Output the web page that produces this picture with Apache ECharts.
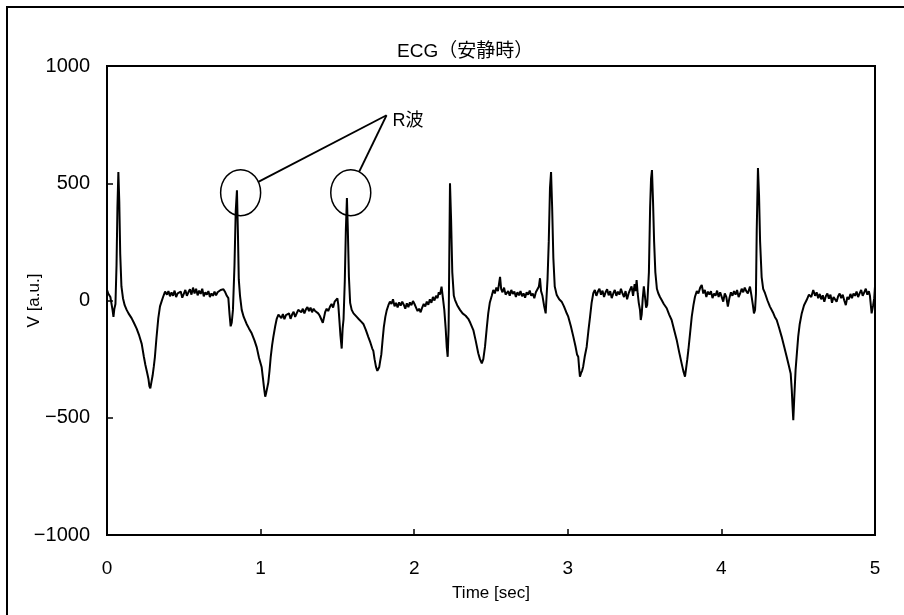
<!DOCTYPE html>
<html>
<head>
<meta charset="utf-8">
<title>ECG</title>
<script src="https://cdn.jsdelivr.net/npm/echarts@6/dist/echarts.min.js"></script>
<style>
  html, body { margin: 0; padding: 0; background: #fff; }
  #chart { width: 904px; height: 615px; }
</style>
</head>
<body>
<div id="chart"></div>
<script>
// time [sec] and voltage [a.u.]
const timeSec = [
  0.000, 0.008, 0.015, 0.022, 0.030, 0.036, 0.042, 0.048, 0.055,
  0.062, 0.068, 0.074, 0.080, 0.086, 0.094, 0.104,
  0.115, 0.128, 0.140, 0.160, 0.175, 0.193, 0.210, 0.226, 0.240, 0.250, 0.262, 0.270, 0.276, 0.282, 0.290, 0.297, 0.305, 0.312, 0.322, 0.334, 0.345, 0.355, 0.365, 0.378,
  0.390, 0.400, 0.410, 0.420, 0.430, 0.440, 0.450, 0.460, 0.470, 0.480, 0.490, 0.500, 0.510, 0.520, 0.530, 0.540, 0.550, 0.560, 0.570, 0.580, 0.590, 0.600, 0.610, 0.620, 0.630, 0.640, 0.650, 0.660, 0.670, 0.680, 0.690, 0.700, 0.710, 0.720, 0.730, 0.740, 0.750, 0.758, 0.770, 0.780, 0.790,
  0.798, 0.805, 0.812, 0.820,
  0.830, 0.838, 0.846, 0.852, 0.858, 0.866, 0.877, 0.890, 0.909, 0.925, 0.942, 0.960, 0.975, 0.990, 1.007, 1.015, 1.022, 1.030, 1.036, 1.043, 1.050, 1.058, 1.066, 1.075, 1.083, 1.095, 1.105, 1.116, 1.126,
  1.135, 1.145, 1.155, 1.165, 1.175, 1.185, 1.195, 1.205, 1.215, 1.225, 1.235, 1.245, 1.256, 1.265, 1.275, 1.285, 1.295, 1.305, 1.315, 1.325, 1.335, 1.345, 1.355, 1.365, 1.375, 1.385, 1.395, 1.405, 1.412, 1.420, 1.430, 1.440, 1.452, 1.462, 1.472, 1.482, 1.492, 1.500, 1.506,
  1.512, 1.520, 1.528, 1.534, 1.540,
  1.548, 1.555, 1.562, 1.568, 1.575, 1.583, 1.593, 1.605, 1.615, 1.626, 1.640, 1.655, 1.669, 1.685, 1.701, 1.715, 1.727, 1.734, 1.742, 1.751, 1.760, 1.766, 1.772, 1.778, 1.786, 1.794, 1.802, 1.812, 1.821, 1.832, 1.842,
  1.852, 1.862, 1.872, 1.882, 1.892, 1.902, 1.912, 1.922, 1.932, 1.942, 1.952, 1.962, 1.972, 1.982, 1.992, 2.002, 2.012, 2.022, 2.032, 2.042, 2.052, 2.062, 2.072, 2.082, 2.092, 2.102, 2.112, 2.122, 2.132, 2.142, 2.152, 2.160, 2.168, 2.178, 2.188,
  2.196, 2.205, 2.212, 2.218, 2.224,
  2.228, 2.233, 2.240, 2.248, 2.258, 2.266, 2.280, 2.298, 2.315, 2.335, 2.352, 2.365, 2.385, 2.400, 2.417, 2.428, 2.440, 2.450, 2.461, 2.472, 2.482, 2.492, 2.505, 2.515,
  2.525, 2.535, 2.545, 2.552, 2.559, 2.566, 2.575, 2.585, 2.595, 2.602, 2.612, 2.622, 2.632, 2.642, 2.652, 2.662, 2.672, 2.682, 2.692, 2.702, 2.712, 2.722, 2.732, 2.742, 2.752, 2.762, 2.772, 2.782, 2.792, 2.802, 2.812, 2.819, 2.826, 2.835, 2.845, 2.856, 2.862, 2.868,
  2.876, 2.884, 2.891, 2.898, 2.906, 2.915, 2.928, 2.944, 2.960, 2.975, 2.990, 3.003, 3.020, 3.036, 3.050, 3.060, 3.068, 3.074, 3.079, 3.086, 3.093, 3.100, 3.110, 3.123, 3.134, 3.145, 3.155, 3.166,
  3.176, 3.186, 3.196, 3.206, 3.216, 3.226, 3.236, 3.246, 3.256, 3.266, 3.276, 3.286, 3.296, 3.306, 3.316, 3.326, 3.336, 3.346, 3.356, 3.366, 3.376, 3.386, 3.396, 3.405, 3.415, 3.425, 3.435, 3.442, 3.448, 3.455, 3.462, 3.470, 3.475, 3.481, 3.488, 3.495, 3.502, 3.510, 3.517,
  3.528, 3.536, 3.542, 3.548, 3.555, 3.562, 3.570, 3.580, 3.589, 3.600, 3.611, 3.625, 3.644, 3.660, 3.676, 3.692, 3.709, 3.725, 3.741, 3.752, 3.763, 3.770, 3.778, 3.785, 3.796, 3.807, 3.818, 3.828, 3.840, 3.850, 3.862, 3.872,
  3.882, 3.892, 3.902, 3.912, 3.922, 3.932, 3.942, 3.952, 3.962, 3.972, 3.982, 3.992, 4.002, 4.012, 4.022, 4.032, 4.042, 4.052, 4.062, 4.072, 4.082, 4.092, 4.102, 4.112, 4.122, 4.132, 4.142, 4.152, 4.162, 4.172, 4.186, 4.196, 4.205, 4.212, 4.219, 4.225,
  4.230, 4.238, 4.245, 4.252, 4.262, 4.272, 4.284, 4.300, 4.316, 4.335, 4.348, 4.360, 4.375, 4.392, 4.408, 4.425, 4.438, 4.451, 4.458, 4.463, 4.468, 4.474, 4.483, 4.492, 4.500, 4.510, 4.523, 4.538, 4.555, 4.570, 4.585, 4.598,
  4.610, 4.620, 4.630, 4.640, 4.650, 4.660, 4.670, 4.680, 4.690, 4.700, 4.710, 4.720, 4.730, 4.740, 4.750, 4.760, 4.770, 4.780, 4.790, 4.800, 4.810, 4.820, 4.830, 4.840, 4.850, 4.860, 4.870, 4.880, 4.890, 4.900, 4.910, 4.920, 4.930, 4.940, 4.950, 4.960, 4.967, 4.978, 4.988, 4.995, 5.000
]
const voltage = [
  45, 30, 38, 15, 22, -40, -70, -35, -15,
  150, 400, 548, 420, 200, 60, 10,
  -20, -40, -55, -75, -95, -120, -150, -185, -240, -275, -310, -335, -365, -375, -345, -320, -280, -240, -160, -75, -25, -5, 15, 38,
  25, 40, 18, 35, 20, 42, 15, 30, 22, 38, 12, 28, 45, 20, 35, 48, 25, 55, 30, 50, 22, 42, 28, 50, 18, 35, 25, 40, 15, 30, 20, 38, 22, 35, 28, 45, 40, 48, 35, 20, 10,
  -60, -110, -95, -40,
  150, 380, 470, 300, 90, 20, -40, -70, -100, -120, -140, -170, -200, -245, -285, -330, -370, -410, -395, -400, -350, -300, -240, -190, -155, -110, -78, -60, -55,
  -75, -58, -80, -62, -70, -55, -78, -60, -48, -70, -55, -40, -32, -50, -35, -55, -38, -28, -45, -30, -50, -35, -45, -40, -55, -65, -80, -95, -75, -50, -35, -45, -26, -15, -30, -5, -12, 9, -20,
  -75, -150, -205, -120, -80,
  80, 300, 437, 300, 100, -10, -40, -55, -50, -70, -80, -90, -100, -125, -155, -180, -205, -215, -250, -282, -300, -296, -285, -260, -230, -170, -115, -70, -42, -20, -5,
  -15, 5, -25, -10, -30, -8, -22, -5, -18, -35, -12, -28, -8, -20, -2, -15, -30, -45, -35, -50, -30, -15, -25, -5, -18, 5, -10, 15, 0, 20, 10, 35, 25, 59, 5,
  -40, -120, -200, -240, -120,
  150, 500, 350, 120, 20, 2, -20, -40, -55, -65, -78, -95, -126, -170, -225, -250, -268, -250, -197, -120, -55, -10, 20, 45,
  30, 55, 40, 70, 101, 50, 35, 55, 25, 23, 40, 20, 45, 28, 38, 15, 35, 22, 40, 18, 30, 12, 35, 25, 42, 20, 30, 10, 35, 28, 60, 95, 40, 20, -20, -55, 20, 90,
  250, 480, 548, 400, 180, 60, 23, 5, -5, -25, -50, -69, -110, -154, -195, -230, -240, -290, -325, -310, -300, -282, -240, -197, -130, -69, -10, 31,
  45, 20, 38, 50, 25, 42, 15, 35, 48, 22, 40, 10, 30, 45, 20, 38, 25, 50, 30, 15, 40, 5, 30, 45, 60, 20, 70, 40, 87, 30, -10, -40, -83, -60, 10, 60, 20, -30, -19,
  120, 400, 520, 556, 420, 250, 120, 50, 31, 15, 2, -15, -33, -60, -83, -125, -168, -220, -268, -300, -325, -290, -250, -211, -140, -69, -20, 16, 40, 30, 55, 66,
  30, 45, 15, 38, 25, 40, 10, 30, 20, 42, 15, 35, 28, -5, 30, 15, -26, 10, 35, 20, 40, 25, 45, 15, 30, 50, 35, 55, 40, 30, 59, 20, -20, -55, -40, 30,
  300, 565, 450, 250, 100, 50, 31, 0, -26, -50, -70, -83, -115, -154, -195, -240, -275, -311, -380, -450, -510, -420, -296, -220, -154, -100, -55, -20, 2, 25, 15, 45,
  20, 35, 10, 28, 5, 22, -5, 18, 30, 8, 25, -10, 15, 20, -5, 18, 30, 10, 25, 0, -20, 15, 5, 28, 10, 30, 20, 38, 15, 30, 45, 20, 35, 50, 25, 40, 20, -55, -20, 10, 60
]

// circled R waves and the label they point to
const rWaveMarks = [[0.870, 460], [1.587, 460]]
const rLabelAt = [1.82, 790]
const rLabel = 'R波'

let chartDom = document.getElementById('chart')
let myChart = echarts.init(chartDom)

const fmt = v => (v < 0 ? '\u2212' + Math.abs(v) : String(v))
const sans = 'Liberation Sans, Noto Sans CJK JP, sans-serif'

let option = {
  animation: false,
  backgroundColor: '#fff',
  title: {
    text: 'ECG（安静時）',
    left: 392,
    top: 37,
    textStyle: {
      fontFamily: sans,
      fontSize: 19,
      fontWeight: 'normal',
      color: '#000',
    },
  },
  grid: {
    left: 107,
    top: 66,
    right: 29,
    bottom: 80,
    show: true,
    borderColor: '#000',
    borderWidth: 2,
  },
  xAxis: {
    type: 'value',
    min: 0,
    max: 5,
    interval: 1,
    name: 'Time [sec]',
    nameLocation: 'middle',
    nameGap: 50,
    nameMoveOverlap: false,
    nameTextStyle: { fontFamily: sans, fontSize: 17, color: '#000' },
    axisLine: { onZero: false, lineStyle: { color: '#000', width: 2 } },
    axisTick: { inside: true, length: 6, lineStyle: { color: '#000', width: 1.5 } },
    axisLabel: { margin: 24, fontFamily: sans, fontSize: 19, color: '#000' },
    splitLine: { show: false },
  },
  yAxis: {
    type: 'value',
    min: -1000,
    max: 1000,
    interval: 500,
    name: 'V [a.u.]',
    nameLocation: 'middle',
    nameGap: 64,
    nameMoveOverlap: false,
    nameTextStyle: { fontFamily: sans, fontSize: 17, color: '#000' },
    axisLine: { onZero: false, lineStyle: { color: '#000', width: 2 } },
    axisTick: { inside: true, length: 6, lineStyle: { color: '#000', width: 1.5 } },
    axisLabel: {
      margin: 17,
      fontFamily: sans,
      fontSize: 20,
      color: '#000',
      formatter: fmt,
    },
    splitLine: { show: false },
  },
  series: [
    {
      type: 'line',
      data: timeSec.map((t, i) => [t, voltage[i]]),
      showSymbol: false,
      lineStyle: { color: '#000', width: 2 },
      z: 3,
    },
  ],
}
myChart.setOption(option)

// annotations placed through the chart's own scales
const toPx = p => myChart.convertToPixel({ gridIndex: 0 }, p)
const labelPx = toPx(rLabelAt)
let graphics = [
  {
    type: 'polyline',
    shape: { points: [[7, 615], [7, 7], [904, 7]] },
    style: { stroke: '#000', lineWidth: 2, fill: null },
  },
]
rWaveMarks.forEach((m, i) => {
  const c = toPx(m)
  graphics.push({
    type: 'ellipse',
    shape: { cx: c[0], cy: c[1], rx: 20, ry: 23 },
    style: { stroke: '#000', lineWidth: 1.5, fill: null },
    z: 10,
  })
  // line from the ellipse rim to the label
  const dx = labelPx[0] - c[0]
  const dy = labelPx[1] - c[1]
  const ang = Math.atan2(dy, dx)
  graphics.push({
    type: 'line',
    shape: {
      x1: c[0] + 20 * Math.cos(ang),
      y1: c[1] + 23 * Math.sin(ang),
      x2: labelPx[0],
      y2: labelPx[1],
    },
    style: { stroke: '#000', lineWidth: 1.8 },
    z: 10,
  })
})
graphics.push({
  type: 'text',
  x: labelPx[0] + 6,
  y: labelPx[1] + 6,
  style: {
    text: rLabel,
    fontFamily: sans,
    fontSize: 18,
    fill: '#000',
    textAlign: 'left',
    textVerticalAlign: 'middle',
  },
  z: 10,
})
myChart.setOption({ graphic: graphics })
</script>
</body>
</html>
